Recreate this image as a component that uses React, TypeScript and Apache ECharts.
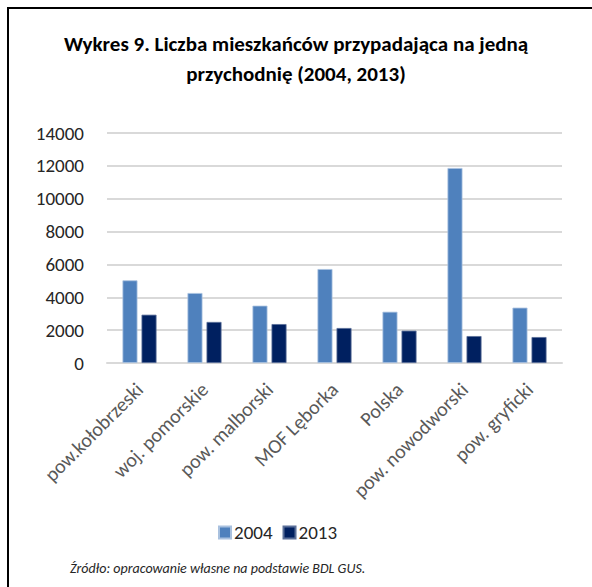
import React, { useEffect, useRef } from "react";
import * as echarts from "echarts";

const categories = [
  "pow.kołobrzeski",
  "woj. pomorskie",
  "pow. malborski",
  "MOF Lęborka",
  "Polska",
  "pow. nowodworski",
  "pow. gryficki",
];
const values2004 = [5030, 4260, 3490, 5720, 3120, 11870, 3370];
const values2013 = [2940, 2500, 2370, 2130, 1970, 1640, 1580];
const seriesNames = ["2004", "2013"];
const titleText = "Wykres 9. Liczba mieszkańców przypadająca na jedną\nprzychodnię (2004, 2013)";
const sourceText = "Źródło: opracowanie własne na podstawie BDL GUS.";

const FONT = "Carlito, Calibri, Lato, sans-serif";

export default function App() {
  const ref = useRef<HTMLDivElement>(null);
  useEffect(() => {
    if (!ref.current) return;
    const chart = echarts.init(ref.current, undefined, { renderer: "svg" });
    chart.setOption({
      animation: false,
      backgroundColor: "#ffffff",
      textStyle: { fontFamily: FONT },
      title: {
        text: titleText,
        left: "center",
        top: 29,
        padding: 0,
        textStyle: {
          fontFamily: FONT,
          fontSize: 21,
          fontWeight: "bold",
          color: "#000000",
          lineHeight: 30,
        },
      },
      legend: {
        data: seriesNames,
        left: 218,
        top: 523,
        padding: 0,
        itemWidth: 12,
        itemHeight: 12,
        itemGap: 10,
        icon: "rect",
        textStyle: { fontFamily: FONT, fontSize: 19, color: "#262626", padding: [0, 0, 0, -2] },
      },
      grid: { left: 107, right: 30, top: 133, bottom: 224, containLabel: false },
      xAxis: {
        type: "category",
        data: categories,
        axisLine: { lineStyle: { color: "#d9d9d9", width: 2 } },
        axisTick: { show: false },
        axisLabel: {
          rotate: 45,
          interval: 0,
          margin: 23,
          fontFamily: FONT,
          fontSize: 20,
          color: "#595959",
        },
      },
      yAxis: {
        type: "value",
        min: 0,
        max: 14000,
        interval: 2000,
        axisLine: { show: false },
        axisTick: { show: false },
        splitLine: { lineStyle: { color: "#d9d9d9", width: 2 } },
        axisLabel: {
          margin: 23,
          fontFamily: FONT,
          fontSize: 19,
          color: "#262626",
          formatter: (v: number) => String(v),
        },
      },
      series: [
        {
          name: seriesNames[0],
          type: "bar",
          data: values2004,
          barWidth: 15,
          barGap: "27%",
          itemStyle: { color: "#4f81bd", borderColor: "#a9c1df", borderWidth: 0.8 },
        },
        {
          name: seriesNames[1],
          type: "bar",
          data: values2013,
          barWidth: 15,
          itemStyle: { color: "#002060", borderColor: "#5a6f99", borderWidth: 0.8 },
        },
      ],
      graphic: [
        {
          type: "line",
          shape: { x1: 7, y1: 8, x2: 592, y2: 8 },
          style: { stroke: "#000000", lineWidth: 2 },
        },
        {
          type: "line",
          shape: { x1: 8, y1: 7, x2: 8, y2: 587 },
          style: { stroke: "#000000", lineWidth: 2 },
        },
        {
          type: "text",
          left: 70,
          top: 561,
          style: {
            text: sourceText,
            fontFamily: FONT,
            fontSize: 14,
            fontStyle: "italic",
            fill: "#262626",
          },
        },
      ],
    });
    return () => chart.dispose();
  }, []);
  return (
    <div
      ref={ref}
      style={{ position: "fixed", left: 0, top: 0, width: 592, height: 587 }}
    />
  );
}
